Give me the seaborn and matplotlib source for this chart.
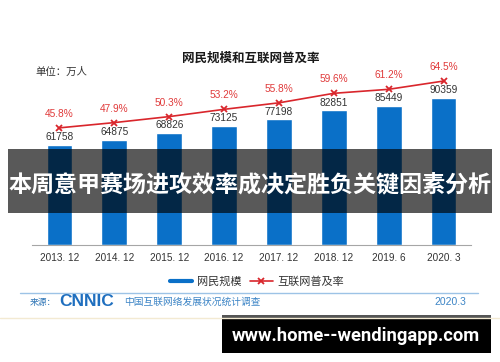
import matplotlib
matplotlib.use("Agg")
import matplotlib.pyplot as plt
from matplotlib.lines import Line2D
from matplotlib.patches import Rectangle
import seaborn as sns
import numpy as np
import pandas as pd

# ---------------- data ----------------
periods = ["2013. 12", "2014. 12", "2015. 12", "2016. 12", "2017. 12", "2018. 12", "2019. 6", "2020. 3"]
netizens = [61758, 64875, 68826, 73125, 77198, 82851, 85449, 90359]
penetration = [45.8, 47.9, 50.3, 53.2, 55.8, 59.6, 61.2, 64.5]

title_text = "网民规模和互联网普及率"
unit_text = "单位：万人"
legend_labels = ["网民规模", "互联网普及率"]
banner_text = "本周意甲赛场进攻效率成决定胜负关键因素分析"
source_label = "来源："
source_logo = "CNNIC"
source_desc = "中国互联网络发展状况统计调查"
source_date = "2020.3"
site_text = "www.home--wendingapp.com"

df = pd.DataFrame({"period": periods, "netizens": netizens, "rate": penetration})

# ---------------- style ----------------
sns.set_theme(style="white")
plt.rcParams["font.family"] = ["Noto Sans CJK SC", "DejaVu Sans"]
NUM = ["Liberation Sans", "Noto Sans CJK SC"]

BLUE = "#0a70c8"
RED = "#d9262c"
W, H = 500, 362

fig = plt.figure(figsize=(5, 3.62), dpi=100)
ax = fig.add_axes([32 / W, (H - 245) / H, 439 / W, 200 / H])

sns.barplot(data=df, x="period", y="netizens", color=BLUE, width=0.47,
            saturation=1, ax=ax, errorbar=None)
ax.set_ylim(0, 123000)

ax2 = ax.twinx()
sns.pointplot(data=df, x="period", y="rate", color=RED, markers="x",
              errorbar=None, ax=ax2, markersize=5, linewidth=1.2,
              markeredgewidth=1.3)
ax2.set_ylim(-1.0, 78.9)

for a in (ax, ax2):
    for s in a.spines.values():
        s.set_visible(False)
    a.set_ylabel("")
    a.set_xlabel("")
    a.set_yticks([])
    a.grid(False)
ax.spines["bottom"].set_visible(True)
ax.spines["bottom"].set_color("#a6a6a6")
ax.spines["bottom"].set_linewidth(0.8)

ax.set_xlim(-0.5, len(periods) - 0.5)
ax.set_xticks(range(len(periods)))
ax.set_xticklabels(periods, fontsize=7.2, color="#333333", family=NUM)
ax.tick_params(axis="x", which="major", length=0, pad=6)
ax.set_xticks(np.arange(-0.5, len(periods)), minor=True)
ax.tick_params(axis="x", which="minor", length=3, width=0.8, color="#a6a6a6", direction="out")

# value labels
for i, v in enumerate(netizens):
    ax.annotate(str(v), (i, v), xytext=(0, 2), textcoords="offset points",
                ha="center", va="bottom", fontsize=7.3, color="#333333", family=NUM)
for i, r in enumerate(penetration):
    ax2.annotate(f"{r}%", (i, r), xytext=(0, 6.5), textcoords="offset points",
                 ha="center", va="bottom", fontsize=7.3, color="#e03a3a", family=NUM)

# title & unit
fig.text(251 / W, 1 - 58 / H, title_text, ha="center", va="center",
         fontsize=9, fontweight="bold", color="#1a1a1a")
fig.text(35 / W, 1 - 72 / H, unit_text, ha="left", va="center",
         fontsize=7.5, color="#333333")

# legend
handles = [Line2D([], [], color=BLUE, lw=3),
           Line2D([], [], color=RED, lw=1.2, marker="x", markersize=5, markeredgewidth=1.3)]
fig.legend(handles, legend_labels, loc="center", bbox_to_anchor=(257 / W, 1 - 282 / H),
           ncol=2, frameon=False, fontsize=8, handlelength=2.0, columnspacing=0.8,
           handletextpad=0.4, labelcolor="#333333")

# footer
fig.add_artist(Line2D([20 / W, 478 / W], [1 - 293 / H, 1 - 293 / H],
                      color="#9dc3e6", lw=1.0, transform=fig.transFigure))
fig.text(30 / W, 1 - 302 / H, source_label, ha="left", va="center",
         fontsize=6.3, color="#2e75b6")
fig.text(59 / W, 1 - 302 / H, source_logo, ha="left", va="center",
         fontsize=12.5, fontweight="bold", color="#1f6fbf", family=NUM)
fig.text(124 / W, 1 - 302 / H, source_desc, ha="left", va="center",
         fontsize=7, color="#3d85c6")
fig.text(466 / W, 1 - 302 / H, source_date, ha="right", va="center",
         fontsize=7.5, color="#3d85c6", family=NUM)

# faint separator
fig.add_artist(Line2D([0, 1], [1 - 318 / H, 1 - 318 / H],
                      color="#f3ead2", lw=1.0, transform=fig.transFigure))

# banner overlay
fig.add_artist(Rectangle((8 / W, 1 - 213 / H), 484 / W, 64 / H, transform=fig.transFigure,
                         facecolor="black", alpha=0.65, edgecolor="none"))
fig.text(250 / W, 1 - 185 / H, banner_text, ha="center", va="center",
         fontsize=16.6, fontweight="bold", color="white")

# site box
fig.add_artist(Rectangle((222 / W, 1 - 353 / H), 269 / W, 38 / H, transform=fig.transFigure,
                         facecolor="black", edgecolor="none"))
fig.add_artist(Rectangle((222 / W, 1 - 319 / H), 269 / W, 4 / H, transform=fig.transFigure,
                         facecolor="#555555", edgecolor="none"))
fig.text(356 / W, 1 - 336 / H, site_text, ha="center", va="center",
         fontsize=13.2, fontweight="bold", color="white", family=["Roboto", "DejaVu Sans"])

fig.savefig("out.png", dpi=100)
